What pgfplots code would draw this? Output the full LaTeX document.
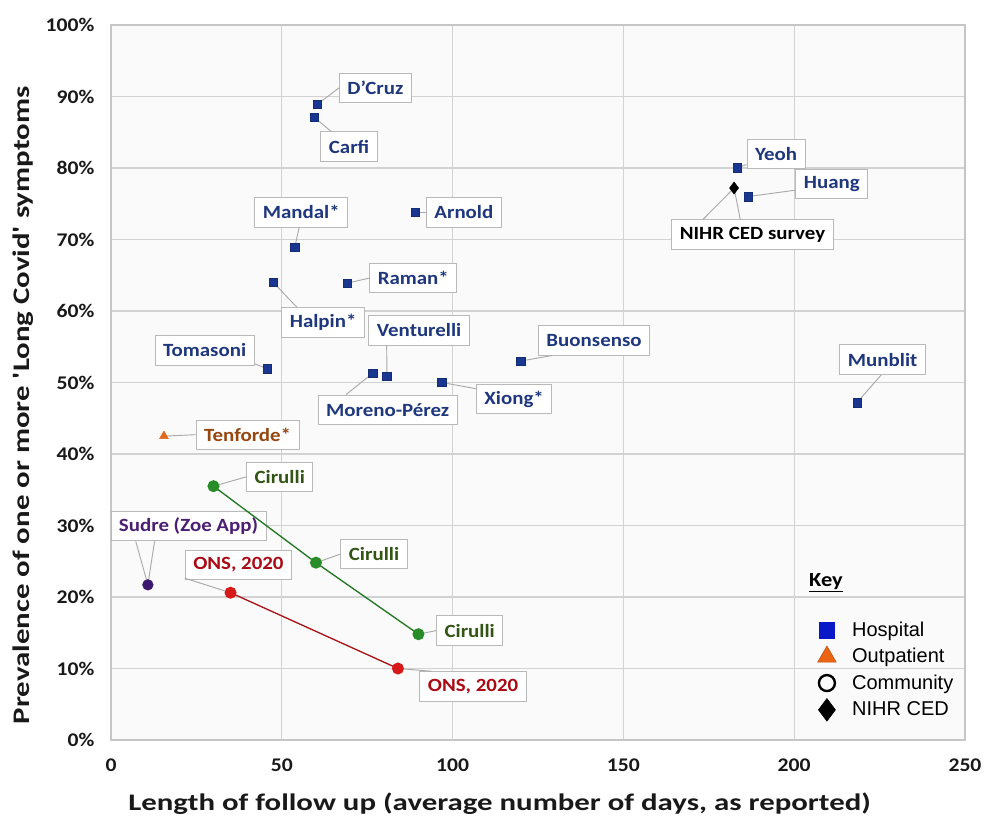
\documentclass[border=0pt]{standalone}
\usepackage{fontspec}
\setmainfont{Carlito}[FakeStretch=1.12]
\newfontfamily\axfont{Carlito}[FakeStretch=1.3]
\newfontfamily\arialf{Liberation Sans}
\usepackage{pgfplots}
\pgfplotsset{compat=1.18}
\definecolor{hospMark}{RGB}{25,55,145}
\definecolor{hospText}{RGB}{30,55,125}
\definecolor{outMark}{RGB}{225,105,30}
\definecolor{outText}{RGB}{150,70,15}
\definecolor{cirMark}{RGB}{40,140,40}
\definecolor{cirText}{RGB}{50,85,20}
\definecolor{onsMark}{RGB}{215,25,25}
\definecolor{onsLine}{RGB}{170,20,25}
\definecolor{onsText}{RGB}{170,10,20}
\definecolor{sudMark}{RGB}{60,25,110}
\definecolor{sudText}{RGB}{75,30,115}
\definecolor{keyBlue}{RGB}{10,25,200}
\definecolor{keyOrange}{RGB}{235,100,20}
\definecolor{leader}{RGB}{170,170,170}

\tikzset{
  lab/.style={draw=gray!55, line width=0.7pt, fill=white, font=\bfseries\fontsize{14}{16}\selectfont,
              inner xsep=6pt, inner ysep=2pt, minimum height=22pt},
  ld/.style={draw=leader, line width=0.7pt},
}

\begin{document}
\begin{tikzpicture}
\useasboundingbox (-83.25pt,-58.5pt) rectangle (656.25pt,555pt);
\begin{axis}[
    at={(0,0)}, anchor=south west,
    scale only axis,
    width=640.5pt, height=536.25pt,
    xmin=0, xmax=250, ymin=0, ymax=100,
    xtick={0,50,...,250}, ytick={0,10,...,100},
    clip=false,
    grid=major,
    major grid style={draw=gray!35, line width=0.8pt},
    axis line style={draw=gray!45, line width=0.8pt},
    axis background/.style={fill=black!2},
    tick style={draw=none},
    /pgf/number format/assume math mode=true,
    ticklabel style={font=\bfseries\fontsize{14.5}{16}\selectfont, text=black!90},
    yticklabel={\pgfmathprintnumber{\tick}\%},
    yticklabel style={anchor=east, xshift=-9pt},
    xticklabel style={anchor=center, yshift=-19pt},
    xlabel={Length of follow up (average number of days, as reported)},
    ylabel={Prevalence of one or more 'Long Covid' symptoms},
    label style={font=\axfont\bfseries\fontsize{17.8}{20}\selectfont, text=black!90},
    xlabel style={at={(rel axis cs:0.455,0)}, anchor=center, yshift=-48pt},
    ylabel style={at={(rel axis cs:0,0.468)}, anchor=center, yshift=66pt},
    legend style={draw=none, fill=none, at={(axis cs:206.8,16.9)}, anchor=north west,
                  font=\arialf\fontsize{15}{17}\selectfont, row sep=3.4pt, column sep=10pt,
                  inner sep=0pt, cells={anchor=west}},
    legend cell align=left,
]

% callout boxes
\node[lab, text=hospText] (dcruz) at (axis cs:77.4,91.2) {D'Cruz};
\node[lab, text=hospText] (carfi) at (axis cs:69.7,83) {Carfi};
\node[lab, text=hospText] (mandal) at (axis cs:55.7,73.8) {Mandal*};
\node[lab, text=hospText] (arnold) at (axis cs:103.3,73.8) {Arnold};
\node[lab, text=hospText] (halpin) at (axis cs:62.1,58.4) {Halpin*};
\node[lab, text=hospText] (raman) at (axis cs:88.5,64.6) {Raman*};
\node[lab, text=hospText] (tomasoni) at (axis cs:27.4,54.5) {Tomasoni};
\node[lab, text=hospText] (venturelli) at (axis cs:90.2,57.3) {Venturelli};
\node[lab, text=hospText] (moreno) at (axis cs:81,46.2) {Moreno-Pérez};
\node[lab, text=hospText] (xiong) at (axis cs:118,47.7) {Xiong*};
\node[lab, text=hospText] (buonsenso) at (axis cs:141.4,55.9) {Buonsenso};
\node[lab, text=hospText] (yeoh) at (axis cs:194.7,82) {Yeoh};
\node[lab, text=hospText] (huang) at (axis cs:211,77.8) {Huang};
\node[lab, text=black] (nihr) at (axis cs:187.8,70.7) {NIHR CED survey};
\node[lab, text=hospText] (munblit) at (axis cs:225.9,53.2) {Munblit};
\node[lab, text=outText] (tenforde) at (axis cs:40,42.7) {Tenforde*};
\node[lab, text=cirText] (cir1) at (axis cs:49.4,36.8) {Cirulli};
\node[lab, text=cirText] (cir2) at (axis cs:77,26) {Cirulli};
\node[lab, text=cirText] (cir3) at (axis cs:105,15.3) {Cirulli};
\node[lab, text=sudText] (sudre) at (axis cs:22.7,29.9) {Sudre (Zoe App)};
\node[lab, text=onsText] (ons1) at (axis cs:37.3,24.5) {ONS, 2020};
\node[lab, text=onsText] (ons2) at (axis cs:106,7.5) {ONS, 2020};

% leader lines
\draw[ld] (axis cs:60.4,88.9) -- (dcruz.west);
\draw[ld] (axis cs:59.5,87.1) -- (carfi.140);
\draw[ld] (axis cs:53.8,68.9) -- (mandal.262);
\draw[ld] (axis cs:89.1,73.8) -- (arnold.west);
\draw[ld] (axis cs:47.5,64.0) -- (halpin.150);
\draw[ld] (axis cs:69.2,63.9) -- (raman.west);
\draw[ld] (axis cs:45.8,51.9) -- (tomasoni.345);
\draw[ld] (axis cs:76.6,51.3) -- (moreno.160);
\draw[ld] (axis cs:80.8,50.9) -- (venturelli.205);
\draw[ld] (axis cs:96.9,50.0) -- (xiong.165);
\draw[ld] (axis cs:120,53.0) -- (buonsenso.200);
\draw[ld] (axis cs:183.3,80.0) -- (yeoh.200);
\draw[ld] (axis cs:186.5,76.0) -- (huang.190);
\draw[ld] (axis cs:182.4,77.2) -- (nihr.163);
\draw[ld] (axis cs:182.4,77.2) -- (nihr.129);
\draw[ld] (axis cs:218.4,47.2) -- (munblit.265);
\draw[ld] (axis cs:15.5,42.5) -- (tenforde.west);
\draw[ld] (axis cs:30,35.5) -- (cir1.west);
\draw[ld] (axis cs:60,24.8) -- (cir2.west);
\draw[ld] (axis cs:90,14.8) -- (cir3.west);
\draw[ld] (axis cs:10.8,21.7) -- (sudre.196);
\draw[ld] (axis cs:10.8,21.7) -- (sudre.204);
\draw[ld] (axis cs:35,20.6) -- (ons1.194);
\draw[ld] (axis cs:84,10) -- (ons2.160);

% Hospital studies
\addplot[forget plot, only marks, mark=square*, mark size=3.2pt,
         mark options={fill=hospMark, draw=hospMark!80!black}] coordinates {
  (60.4,88.9) (59.5,87.1) (53.8,68.9) (89.1,73.8) (47.5,64.0) (69.2,63.9)
  (45.8,51.9) (76.6,51.3) (80.8,50.9) (96.9,50.0) (120,53.0)
  (183.3,80.0) (186.5,76.0) (218.4,47.2)
};
% Outpatient
\addplot[forget plot, only marks, mark=triangle*, mark size=3.8pt,
         mark options={fill=outMark, draw=outMark}] coordinates {(15.5,42.5)};
% Community: Cirulli
\addplot[forget plot, color=cirMark!85!black, line width=1pt, mark=*, mark size=4pt,
         mark options={fill=cirMark, draw=cirMark}] coordinates {(30,35.5) (60,24.8) (90,14.8)};
% Community: ONS
\addplot[forget plot, color=onsLine, line width=1pt, mark=*, mark size=4pt,
         mark options={fill=onsMark, draw=onsMark}] coordinates {(35,20.6) (84,10)};
% Community: Sudre
\addplot[forget plot, only marks, mark=*, mark size=4pt,
         mark options={fill=sudMark, draw=sudMark}] coordinates {(10.8,21.7)};
% NIHR CED
\addplot[forget plot, only marks, mark=diamond*, mark size=4.5pt,
         mark options={fill=black, draw=black}] coordinates {(182.4,77.2)};

% key
\node[anchor=west, font=\bfseries\fontsize{15}{17}\selectfont] at (axis cs:203,22.0) {\underline{Key}};
\addlegendimage{only marks, mark=square*, mark size=5.8pt, mark options={fill=keyBlue, draw=keyBlue}}
\addlegendentry{Hospital}
\addlegendimage{only marks, mark=triangle*, mark size=8pt, mark options={fill=keyOrange, draw=keyOrange!80!black}}
\addlegendentry{Outpatient}
\addlegendimage{only marks, mark=o, mark size=6pt, mark options={draw=black, line width=1.8pt}}
\addlegendentry{Community}
\addlegendimage{only marks, mark=diamond*, mark size=8.5pt, mark options={fill=black, draw=black}}
\addlegendentry{NIHR CED}
\end{axis}
\end{tikzpicture}
\end{document}
